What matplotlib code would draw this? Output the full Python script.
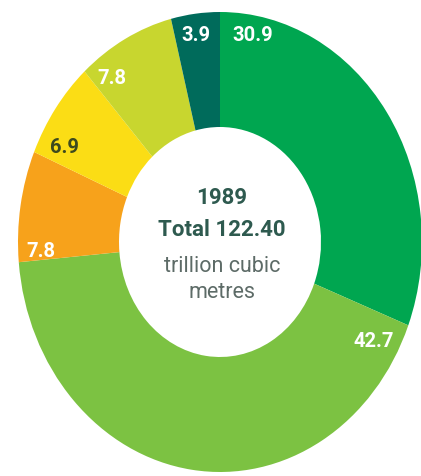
import matplotlib
matplotlib.use('Agg')
import matplotlib.pyplot as plt

# share of gas reserves, 1989 (percent)
values = [30.9, 42.7, 7.8, 6.9, 7.8, 3.9]
labels = ['30.9', '42.7', '7.8', '6.9', '7.8', '3.9']
colors = ['#00a650', '#7cc242', '#f7a21b', '#fbdd15', '#c8d62f', '#006b5b']
label_colors = ['white', 'white', 'white', '#3d4a1e', 'white', 'white']
# label spots inside the ring (axes data units)
label_xy = [(0.16, 0.904), (0.762, -0.43), (-0.886, -0.035),
            (-0.772, 0.417), (-0.535, 0.717), (-0.119, 0.904)]

year = '1989'
total = 'Total 122.40'
unit = 'trillion cubic\nmetres'

fig = plt.figure(figsize=(4.21, 4.77), dpi=100)
ax = fig.add_axes([18 / 421, 4 / 477, 404 / 421, 460 / 477])
ax.pie(values, colors=colors, startangle=90, counterclock=False,
       radius=1.0, wedgeprops=dict(width=0.5, edgecolor='none'))
ax.set_aspect('auto')
ax.set_xlim(-1, 1)
ax.set_ylim(-1, 1)
ax.axis('off')

font = ['Roboto', 'DejaVu Sans']
for (x, y), txt, c in zip(label_xy, labels, label_colors):
    ax.text(x, y, txt, ha='center', va='center', color=c,
            fontsize=14.5, fontweight='bold', family=font)

ax.text(0.01, 0.195, year, ha='center', va='center', color='#2e5a4f',
        fontsize=16, fontweight='bold', family=font)
ax.text(0.01, 0.055, total, ha='center', va='center', color='#2e5a4f',
        fontsize=16, fontweight='bold', family=font)
ax.text(0.01, -0.16, unit, ha='center', va='center', color='#5d6b67',
        fontsize=15.5, family=font, linespacing=1.33)

fig.savefig('out.png', dpi=100)
